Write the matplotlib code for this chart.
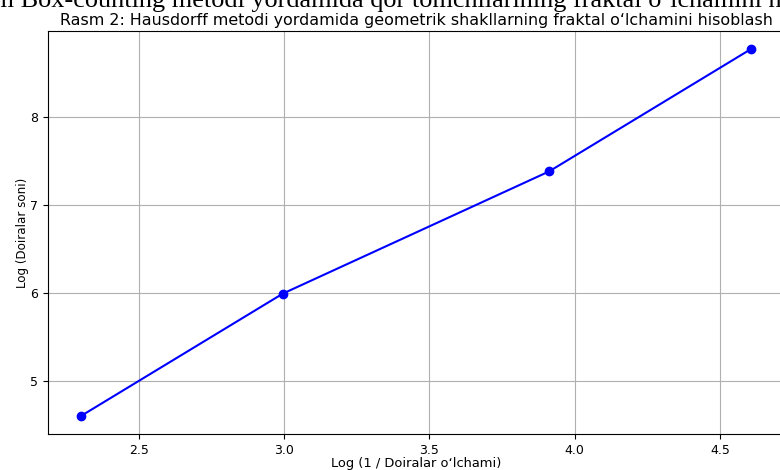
import matplotlib
matplotlib.use("Agg")
import matplotlib.pyplot as plt
from matplotlib.textpath import TextPath
from matplotlib.font_manager import FontProperties
import numpy as np

# Data
log_inv_size = [2.303, 2.996, 3.912, 4.605]
log_count = [4.605, 5.991, 7.378, 8.764]

title = "Rasm 2: Hausdorff metodi yordamida geometrik shakllarning fraktal o\u2018lchamini hisoblash"
top_prefix = "Rasm "
top_text = top_prefix + "Box-counting metodi yordamida qor tomchilarining fraktal o\u2018lchamini hisoblash"
xlabel = "Log (1 / Doiralar o\u2018lchami)"
ylabel = "Log (Doiralar soni)"

W, H = 780, 470
fig = plt.figure(figsize=(W / 100, H / 100), dpi=100)
ax = fig.add_axes([48 / W, (H - 434) / H, (784 - 48) / W, (434 - 31) / H])

ax.plot(log_inv_size, log_count, color="blue", marker="o", markersize=6, linewidth=1.5)
ax.grid(True)
ax.set_title(title, fontsize=11.4, pad=4)
ax.set_xlabel(xlabel, fontsize=9.4, labelpad=0.5)
ax.set_ylabel(ylabel, fontsize=8.6, labelpad=1)
ax.tick_params(labelsize=9)

# size the partly visible heading above the chart so the visible part fills the width
fp = FontProperties(family="Liberation Serif", size=10)
vis = "Box-counting metodi yordamida qor tomchilarining fraktal o\u2018lchamini h"
w10 = TextPath((0, 0), vis, prop=fp).get_extents().width  # in points at size 10
target_px = 758.0
fs = 10 * target_px / (w10 * 100 / 72)
fp2 = FontProperties(family="Liberation Serif", size=fs)
pre_w = TextPath((0, 0), top_prefix, prop=fp2).get_extents()
pre_px = TextPath((0, 0), top_prefix + "B", prop=fp2).get_extents().x1 * 100 / 72 - \
    TextPath((0, 0), "B", prop=fp2).get_extents().width * 100 / 72
x0 = (21 - pre_px) / W
fig.text(x0, 1 - 7 / H, top_text, fontsize=fs, family="Liberation Serif",
         ha="left", va="baseline")

fig.savefig("out.png", dpi=100)
